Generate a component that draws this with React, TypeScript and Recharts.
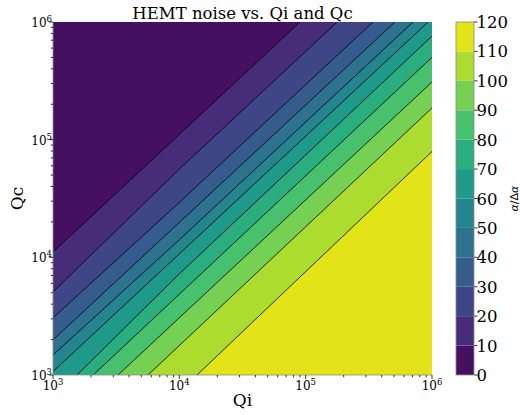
import React from 'react';
import { ComposedChart, Area, XAxis, YAxis, BarChart, Bar } from 'recharts';

// ---- data ----
const qiMajorTicks = [1e3, 1e4, 1e5, 1e6];
const qcMajorTicks = [1e3, 1e4, 1e5, 1e6];
const minorMultipliers = [2, 3, 4, 5, 6, 7, 8, 9];
const levels = [0, 10, 20, 30, 40, 50, 60, 70, 80, 90, 100, 110, 120];
const bandColors = ['#461061', '#472c7a', '#3f4688', '#365c8d', '#2d728e', '#25858e', '#1f9a8a', '#2aae80', '#48c16e', '#76d054', '#addc30', '#e2e418'];

// contour lines (Qi, Qc) for each level; lines 10-60 run left edge -> top edge, 70-110 bottom edge -> right edge
const contour10 = [{ qi: 1000, qc: 11100 }, { qi: 90200, qc: 1000000 }];
const contour20 = [{ qi: 1000, qc: 5080 }, { qi: 10000, qc: 56200 }, { qi: 178000, qc: 1000000 }];
const contour30 = [{ qi: 1000, qc: 3060 }, { qi: 10000, qc: 29300 }, { qi: 341000, qc: 1000000 }];
const contour40 = [{ qi: 1000, qc: 1990 }, { qi: 509000, qc: 1000000 }];
const contour50 = [{ qi: 1000, qc: 1480 }, { qi: 10000, qc: 14100 }, { qi: 708000, qc: 1000000 }];
const contour60 = [{ qi: 1000, qc: 1070 }, { qi: 933000, qc: 1000000 }];
const contour70 = [{ qi: 1550, qc: 1000 }, { qi: 10000, qc: 7240 }, { qi: 1000000, qc: 759000 }];
const contour80 = [{ qi: 2080, qc: 1000 }, { qi: 1000000, qc: 501000 }];
const contour90 = [{ qi: 3270, qc: 1000 }, { qi: 1000000, qc: 309000 }];
const contour100 = [{ qi: 5650, qc: 1000 }, { qi: 1000000, qc: 186000 }];
const contour110 = [{ qi: 13800, qc: 1000 }, { qi: 1000000, qc: 79400 }];

const plotDomain = [1e3, 1e6];

// ---- tables built from the arrays above ----
const buildTicks = (major: number[]) => {
  const out: number[] = [...major];
  major.slice(0, -1).forEach((d) => minorMultipliers.forEach((m) => out.push(d * m)));
  return out.sort((a, b) => a - b);
};
const xTicks = buildTicks(qiMajorTicks);
const yTicks = buildTicks(qcMajorTicks);
const fullRect = [{ qi: plotDomain[0], qc: plotDomain[1] }, { qi: plotDomain[1], qc: plotDomain[1] }];

// lines whose higher-valued side is below-right: fill toward the bottom; others fill toward the top
const upperGroup = [
  { data: contour60, color: bandColors[5] },
  { data: contour50, color: bandColors[4] },
  { data: contour40, color: bandColors[3] },
  { data: contour30, color: bandColors[2] },
  { data: contour20, color: bandColors[1] },
  { data: contour10, color: bandColors[0] },
];
const lowerGroup = [
  { data: contour70, color: bandColors[7] },
  { data: contour80, color: bandColors[8] },
  { data: contour90, color: bandColors[9] },
  { data: contour100, color: bandColors[10] },
  { data: contour110, color: bandColors[11] },
];

const colorbarRow = [levels.slice(1).reduce((acc: any, l, i) => { acc['b' + i] = l - levels[i]; return acc; }, { name: 'cb' })];

const SERIF = '"DejaVu Serif", serif';
const SPINE = '#8c8c8c';

const isMajor = (v: number) => Math.abs(Math.log10(v) - Math.round(Math.log10(v))) < 1e-6;

const XTick = (props: any) => {
  const { x, y, payload } = props;
  const v = payload.value;
  const major = isMajor(v);
  return (
    <g>
      <line x1={x} y1={y} x2={x} y2={y + (major ? 4 : 2.3)} stroke="#000" strokeWidth={0.8} />
      {major && (
        <text x={x} y={y + 15} textAnchor="middle" fontSize={12} fontFamily={SERIF} fill="#000">
          10<tspan dy={-5} fontSize={8.5}>{Math.round(Math.log10(v))}</tspan>
        </text>
      )}
    </g>
  );
};

const YTick = (props: any) => {
  const { x, y, payload } = props;
  const v = payload.value;
  const major = isMajor(v);
  return (
    <g>
      <line x1={x} y1={y} x2={x - (major ? 4 : 2.3)} y2={y} stroke="#000" strokeWidth={0.8} />
      {major && (
        <text x={x - 1} y={y + 5} textAnchor="end" fontSize={12} fontFamily={SERIF} fill="#000">
          10<tspan dy={-5} fontSize={8.5}>{Math.round(Math.log10(v))}</tspan>
        </text>
      )}
    </g>
  );
};

const CbTick = (props: any) => {
  const { x, y, payload } = props;
  return (
    <g>
      <line x1={x} y1={y} x2={x + 3.5} y2={y} stroke="#000" strokeWidth={0.8} />
      <text x={x + 2.5} y={y + 6} textAnchor="start" fontSize={16.5} fontFamily={SERIF} fill="#000">
        {payload.value}
      </text>
    </g>
  );
};

export default function App() {
  return (
    <div style={{ position: 'absolute', left: 0, top: 0, width: 520, height: 415, background: '#fff' }}>
      <div style={{ position: 'absolute', left: 0, top: 0 }}>
        <ComposedChart width={520} height={415} margin={{ top: 22, right: 88, bottom: 10, left: 8 }}>
          <XAxis
            dataKey="qi" type="number" scale="log" domain={plotDomain} allowDataOverflow
            ticks={xTicks} interval={0} tickLine={false} tickSize={0} tickMargin={0}
            tick={(p: any) => <XTick {...p} />} axisLine={{ stroke: SPINE, strokeWidth: 0.8 }} height={30}
          />
          <XAxis
            xAxisId="top" orientation="top" type="number" scale="log" domain={plotDomain} allowDataOverflow
            tick={false} tickLine={false} height={0} axisLine={{ stroke: SPINE, strokeWidth: 0.8 }}
          />
          <YAxis
            dataKey="qc" type="number" scale="log" domain={plotDomain} allowDataOverflow
            ticks={yTicks} interval={0} tickLine={false} tickSize={0} tickMargin={0}
            tick={(p: any) => <YTick {...p} />} axisLine={{ stroke: SPINE, strokeWidth: 0.8 }} width={45}
          />
          <YAxis
            yAxisId="right" orientation="right" type="number" scale="log" domain={plotDomain} allowDataOverflow
            tick={false} tickLine={false} width={0} axisLine={{ stroke: SPINE, strokeWidth: 0.8 }}
          />
          <Area
            data={fullRect} dataKey="qc" type="linear" baseValue="dataMin"
            fill={bandColors[6]} fillOpacity={1} stroke="none" dot={false} activeDot={false} isAnimationActive={false}
          />
          {upperGroup.map((g, i) => (
            <Area
              key={'u' + i} data={g.data} dataKey="qc" type="linear" baseValue="dataMax"
              fill={g.color} fillOpacity={1} stroke="#000" strokeWidth={0.8}
              dot={false} activeDot={false} isAnimationActive={false}
            />
          ))}
          {lowerGroup.map((g, i) => (
            <Area
              key={'l' + i} data={g.data} dataKey="qc" type="linear" baseValue="dataMin"
              fill={g.color} fillOpacity={1} stroke="#000" strokeWidth={0.8}
              dot={false} activeDot={false} isAnimationActive={false}
            />
          ))}
        </ComposedChart>
      </div>
      <div style={{ position: 'absolute', left: 440, top: 0 }}>
        <BarChart width={80} height={415} data={colorbarRow} margin={{ top: 22, right: 0, bottom: 40, left: 16 }} barCategoryGap={0}>
          <XAxis dataKey="name" hide />
          <YAxis
            orientation="right" type="number" domain={[levels[0], levels[levels.length - 1]]} ticks={levels}
            interval={0} tickLine={false} tickSize={0} tickMargin={0} width={46}
            tick={(p: any) => <CbTick {...p} />} axisLine={false}
          />
          {bandColors.map((c, i) => (
            <Bar key={i} dataKey={'b' + i} stackId="cb" fill={c} isAnimationActive={false} />
          ))}
        </BarChart>
      </div>
      <svg width={520} height={415} style={{ position: 'absolute', left: 0, top: 0, pointerEvents: 'none' }}>
        <rect x={456} y={22} width={18} height={353} fill="none" stroke={SPINE} strokeWidth={0.8} />
        <text x={242.5} y={19} textAnchor="middle" fontSize={16.5} fontFamily={SERIF} fill="#000">HEMT noise vs. Qi and Qc</text>
        <text x={242.5} y={406} textAnchor="middle" fontSize={17} fontFamily={SERIF} fill="#000">Qi</text>
        <text x={23} y={198.5} textAnchor="middle" fontSize={17} fontFamily={SERIF} fill="#000" transform="rotate(-90, 23, 198.5)">Qc</text>
        <text x={518} y={198.5} textAnchor="middle" fontSize={11} fontFamily='"DejaVu Sans", sans-serif' fill="#000" transform="rotate(-90, 518, 198.5)">
          <tspan fontStyle="italic">α</tspan>/Δ<tspan fontStyle="italic">α</tspan>
        </text>
      </svg>
    </div>
  );
}
